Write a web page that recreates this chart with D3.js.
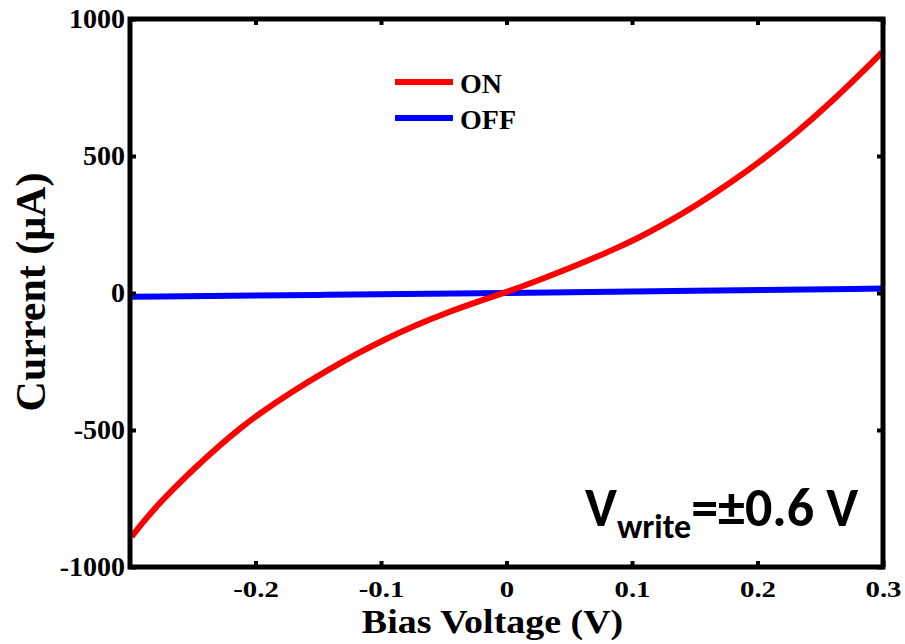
<!DOCTYPE html>
<html>
<head>
<meta charset="utf-8">
<script src="https://cdn.jsdelivr.net/npm/d3@7"></script>
<style>
  body { margin: 0; background: #fff; }
  svg { display: block; }
  .tick text { font-family: "Liberation Serif", "Times New Roman", serif; font-weight: bold; }
</style>
</head>
<body>
<div id="chart"></div>
<script>
// bias voltage (V) and current (uA)
const onVoltage = [-0.2986, -0.2907, -0.2775, -0.2641, -0.2508, -0.2296, -0.2110, -0.1978, -0.1712, -0.1446,
    -0.1181, -0.0982, -0.0743, -0.0478, -0.0211, 0.0, 0.0321, 0.0586, 0.0851, 0.1050,
    0.1249, 0.1516, 0.1781, 0.2046, 0.2312, 0.2578, 0.2843, 0.2990];
const onCurrent = [-889, -842, -772, -709, -649, -560, -489, -443, -361, -287,
    -219, -172, -121, -72, -29, 3, 58, 106, 158, 201,
    249, 321, 401, 488, 585, 693, 810, 878];

const offVoltage = [-0.3, -0.15, 0, 0.15, 0.3];
const offCurrent = [-14, -7, 0, 8, 16];

const xTicks = [-0.2, -0.1, 0, 0.1, 0.2, 0.3];
const yTicks = [-1000, -500, 0, 500, 1000];

const legendNames = ["ON", "OFF"];
const legendColors = ["#ff0000", "#0000ff"];

const width = 905, height = 644;
const margin = {top: 19, right: 22, bottom: 77, left: 130};
const serif = "Liberation Serif, Times New Roman, serif";

const svg = d3.select("#chart").append("svg")
    .attr("width", width)
    .attr("height", height);

const x = d3.scaleLinear().domain([-0.3, 0.3]).range([margin.left, width - margin.right]);
const y = d3.scaleLinear().domain([-1000, 1000]).range([height - margin.bottom, margin.top]);

// curves
const line = d3.line().x(d => x(d[0])).y(d => y(d[1])).curve(d3.curveBasis);

svg.append("path")
    .datum(offVoltage.map((v, i) => [v, offCurrent[i]]))
    .attr("fill", "none")
    .attr("stroke", legendColors[1])
    .attr("stroke-width", 6)
    .attr("d", line);

svg.append("path")
    .datum(onVoltage.map((v, i) => [v, onCurrent[i]]))
    .attr("fill", "none")
    .attr("stroke", legendColors[0])
    .attr("stroke-width", 6)
    .attr("d", line);

// axes, ticks pointing inward, mirrored on top and right
const fmtX = d => d === 0 ? "0" : d3.format(".1f")(d).replace("−", "-");
const fmtY = d => String(d).replace("−", "-");

const xAxis = svg.append("g")
    .attr("transform", `translate(0,${y(-1000)})`)
    .call(d3.axisBottom(x).tickValues(xTicks).tickSize(-6).tickPadding(13).tickFormat(fmtX));
xAxis.selectAll("text").attr("font-size", 24).attr("transform", "scale(1.2,1)");

svg.append("g")
    .attr("transform", `translate(0,${y(1000)})`)
    .call(d3.axisTop(x).tickValues(xTicks).tickSize(-6).tickFormat(""));

const yAxis = svg.append("g")
    .attr("transform", `translate(${x(-0.3)},0)`)
    .call(d3.axisLeft(y).tickValues(yTicks).tickSize(-6).tickPadding(5).tickFormat(fmtY));
yAxis.selectAll("text").attr("font-size", 28);

svg.append("g")
    .attr("transform", `translate(${x(0.3)},0)`)
    .call(d3.axisRight(y).tickValues(yTicks).tickSize(-6).tickFormat(""));

svg.selectAll(".domain").remove();
svg.selectAll(".tick line").attr("stroke", "#000").attr("stroke-width", 4);

// frame
svg.append("rect")
    .attr("x", x(-0.3))
    .attr("y", y(1000))
    .attr("width", x(0.3) - x(-0.3))
    .attr("height", y(-1000) - y(1000))
    .attr("fill", "none")
    .attr("stroke", "#000")
    .attr("stroke-width", 5);

// axis titles
svg.append("g")
    .attr("transform", `translate(${x(0) - 14},633) scale(1.15,1)`)
    .append("text")
    .attr("text-anchor", "middle")
    .attr("font-family", serif)
    .attr("font-weight", "bold")
    .attr("font-size", 33)
    .text("Bias Voltage (V)");

svg.append("text")
    .attr("transform", `translate(45,${y(0) - 1}) rotate(-90)`)
    .attr("text-anchor", "middle")
    .attr("font-family", serif)
    .attr("font-weight", "bold")
    .attr("font-size", 42)
    .text("Current (μA)");

// legend
const legend = svg.append("g").attr("transform", "translate(395,82)");
legendNames.forEach((name, i) => {
    const row = legend.append("g").attr("transform", `translate(0,${i * 36})`);
    row.append("line")
        .attr("x1", 0).attr("x2", 58)
        .attr("stroke", legendColors[i])
        .attr("stroke-width", 6);
    row.append("text")
        .attr("x", 65)
        .attr("y", 11)
        .attr("font-family", serif)
        .attr("font-weight", "bold")
        .attr("font-size", 28)
        .text(name);
});

// annotation
const note = svg.append("text")
    .attr("x", 585)
    .attr("y", 526)
    .attr("font-family", "Carlito, Open Sans, Noto Sans, sans-serif")
    .attr("font-weight", "bold")
    .attr("font-size", 54);
note.append("tspan").text("V");
note.append("tspan").attr("font-size", 34).attr("dy", 12).text("write");
note.append("tspan").attr("dy", -12).text("=±0.6 V");
</script>
</body>
</html>
